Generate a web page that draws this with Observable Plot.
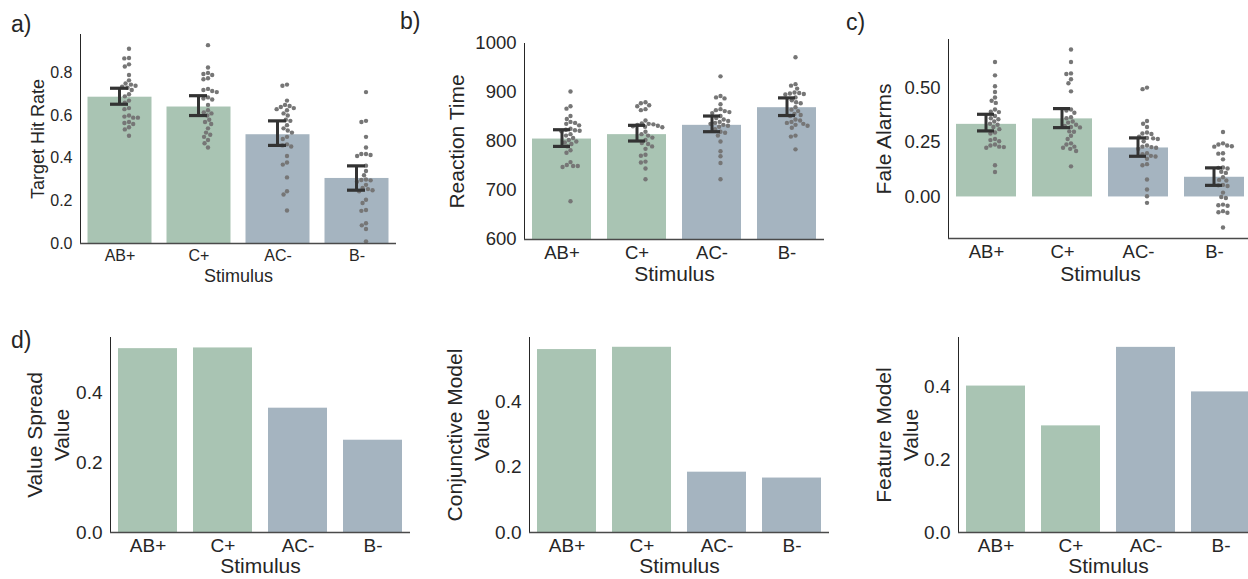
<!DOCTYPE html>
<html><head><meta charset="utf-8">
<script src="https://cdn.jsdelivr.net/npm/d3@7"></script>
<script src="https://cdn.jsdelivr.net/npm/@observablehq/plot@0.6"></script>
<style>
html,body{margin:0;padding:0;background:#fff;overflow:hidden;}
#fig{position:relative;width:1248px;height:579px;overflow:hidden;font-family:"Liberation Sans",Arial,sans-serif;color:#262626;background:#fff;}
.panel{position:absolute;}
.panel svg{max-width:none !important;}
.tag{position:absolute;font-size:23px;line-height:1;color:#262626;}
</style></head><body><div id="fig"></div>
<script>
// ---------- data ----------
const stimuli = ["AB+", "C+", "AC-", "B-"];
const barColors = ["#a9c4b3", "#a9c4b3", "#a5b4c0", "#a5b4c0"];
const xLabel = "Stimulus";

// a) Target Hit Rate
const hitMean = [0.686, 0.640, 0.510, 0.305];
const hitLow  = [0.653, 0.600, 0.460, 0.250];
const hitHigh = [0.728, 0.693, 0.575, 0.364];
const hitAB = [0.913, 0.87, 0.868, 0.84, 0.83, 0.79, 0.765, 0.75, 0.745, 0.74, 0.735, 0.73, 0.72, 0.70, 0.69, 0.67, 0.66, 0.635, 0.63, 0.60, 0.595, 0.59, 0.59, 0.57, 0.565, 0.56, 0.545, 0.535, 0.505];
const hitC  = [0.93, 0.825, 0.80, 0.795, 0.79, 0.775, 0.77, 0.725, 0.72, 0.715, 0.71, 0.685, 0.68, 0.675, 0.65, 0.625, 0.615, 0.61, 0.60, 0.58, 0.57, 0.56, 0.54, 0.52, 0.51, 0.50, 0.485, 0.47, 0.45];
const hitAC = [0.745, 0.74, 0.67, 0.65, 0.645, 0.64, 0.635, 0.63, 0.625, 0.61, 0.60, 0.58, 0.575, 0.555, 0.54, 0.53, 0.52, 0.50, 0.49, 0.465, 0.46, 0.455, 0.41, 0.38, 0.37, 0.31, 0.245, 0.23, 0.155];
const hitB  = [0.71, 0.575, 0.57, 0.50, 0.45, 0.42, 0.42, 0.415, 0.41, 0.365, 0.34, 0.32, 0.30, 0.298, 0.296, 0.29, 0.275, 0.26, 0.255, 0.25, 0.245, 0.205, 0.19, 0.157, 0.153, 0.095, 0.085, 0.068, 0.01];
const hitTicks = [0, 0.2, 0.4, 0.6, 0.8];

// b) Reaction Time
const rtMean = [805, 814, 833, 869];
const rtLow  = [790, 801, 820, 853];
const rtHigh = [824, 833, 852, 889];
const rtAB = [902, 872, 867, 852, 846, 840, 838, 836, 833, 826, 824, 823, 822, 821, 815, 812, 807, 803, 800, 798, 795, 790, 782, 777, 758, 752, 750, 750, 748, 678];
const rtC  = [880, 878, 874, 872, 866, 864, 843, 837, 836, 835, 834, 832, 831, 830, 829, 820, 815, 812, 808, 803, 797, 795, 790, 785, 773, 771, 759, 757, 745, 723];
const rtAC = [933, 893, 890, 888, 876, 866, 864, 862, 860, 858, 852, 848, 845, 842, 840, 838, 836, 834, 832, 830, 825, 820, 818, 812, 800, 780, 770, 756, 723];
const rtB  = [972, 917, 914, 908, 900, 899, 898, 897, 896, 890, 884, 880, 878, 870, 865, 862, 856, 854, 852, 845, 843, 840, 838, 836, 834, 832, 828, 812, 810, 784];
const rtTicks = [600, 700, 800, 900, 1000];

// c) False alarms
const faMean = [0.332, 0.357, 0.224, 0.090];
const faLow  = [0.302, 0.317, 0.186, 0.053];
const faHigh = [0.378, 0.404, 0.270, 0.133];
const faAB = [0.617, 0.556, 0.506, 0.48, 0.455, 0.44, 0.43, 0.40, 0.39, 0.388, 0.37, 0.36, 0.355, 0.345, 0.335, 0.33, 0.32, 0.31, 0.295, 0.29, 0.265, 0.26, 0.255, 0.24, 0.235, 0.23, 0.228, 0.225, 0.145, 0.114];
const faC  = [0.674, 0.617, 0.565, 0.562, 0.538, 0.52, 0.483, 0.40, 0.395, 0.385, 0.365, 0.36, 0.345, 0.34, 0.33, 0.325, 0.32, 0.318, 0.30, 0.298, 0.28, 0.265, 0.245, 0.24, 0.23, 0.225, 0.22, 0.21, 0.14];
const faAC = [0.50, 0.493, 0.347, 0.335, 0.32, 0.295, 0.29, 0.288, 0.275, 0.27, 0.268, 0.265, 0.255, 0.235, 0.23, 0.228, 0.225, 0.22, 0.20, 0.195, 0.188, 0.185, 0.175, 0.15, 0.145, 0.08, 0.034, 0.003, -0.027];
const faB  = [0.297, 0.245, 0.24, 0.235, 0.232, 0.23, 0.2, 0.198, 0.172, 0.135, 0.133, 0.13, 0.115, 0.11, 0.09, 0.078, 0.075, 0.055, 0.053, 0.05, 0.02, 0.0, -0.005, -0.035, -0.038, -0.04, -0.065, -0.07, -0.072, -0.14];
const faTicks = [0, 0.25, 0.5];

// d) model values
const valueSpread = [0.528, 0.530, 0.357, 0.265];
const conjunctive = [0.561, 0.568, 0.185, 0.167];
const featureModel = [0.401, 0.292, 0.507, 0.385];
const modelTicks = [0, 0.2, 0.4];

// ---------- drawing ----------
const fig = document.getElementById("fig");
const ink = "#262626";

function panel(cfg) {
  const bars = stimuli.map((s, i) => ({cat: s, v: cfg.means[i]}));
  const marks = [
    Plot.rectY(bars, {fx: "cat", y: "v", fill: "cat", insetLeft: cfg.inset, insetRight: cfg.inset, clip: true})
  ];
  if (cfg.points) {
    const pts = stimuli.flatMap((s, i) => cfg.points[i].map(v => ({cat: s, v})));
    marks.push(Plot.dot(pts, Plot.dodgeX({anchor: "middle", padding: 0.3},
      {fx: "cat", y: "v", r: 2.2, fill: "#767676"})));
  }
  if (cfg.low) {
    const err = stimuli.map((s, i) => ({cat: s, lo: cfg.low[i], hi: cfg.high[i]}));
    marks.push(Plot.ruleX(err, {fx: "cat", x: () => "c", y1: "lo", y2: "hi", stroke: "#333333", strokeWidth: 3}));
    marks.push(Plot.tickY(err, {fx: "cat", x: () => "c", y: "lo", stroke: "#333333", strokeWidth: 3.2}));
    marks.push(Plot.tickY(err, {fx: "cat", x: () => "c", y: "hi", stroke: "#333333", strokeWidth: 3.2}));
  }
  marks.push(Plot.ruleY([cfg.yDomain[0]], {stroke: "#4a4a4a", strokeWidth: 1.3}));
  marks.push(Plot.text(stimuli, {fx: d => d, text: d => d, frameAnchor: "bottom", dy: cfg.xTickDy, fontSize: cfg.tickFont, fill: ink}));
  marks.push(Plot.text([xLabel], {fx: () => stimuli[1], frameAnchor: "bottom-right", textAnchor: "middle", dy: cfg.xLabelDy, fontSize: cfg.labelFont, fill: ink}));
  marks.push(Plot.text([cfg.ylabel], {fx: () => stimuli[0], frameAnchor: "left", textAnchor: "middle", lineAnchor: "middle", rotate: -90, dx: cfg.ylabelDx, fontSize: cfg.labelFont, lineHeight: 1.3, fill: ink}));

  const svg = Plot.plot({
    width: cfg.width, height: cfg.height,
    marginTop: cfg.m[0], marginRight: cfg.m[1], marginBottom: cfg.m[2], marginLeft: cfg.m[3],
    style: {fontFamily: "'Liberation Sans', Arial, sans-serif", fontSize: cfg.tickFont + "px", color: ink, background: "transparent", overflow: "visible", maxWidth: "none"},
    fx: {domain: stimuli, padding: 0, axis: null},
    x: {type: "band", domain: ["c"], padding: 0.62, axis: null},
    y: {domain: cfg.yDomain, ticks: cfg.yTicks, tickFormat: cfg.yFormat, tickSize: 0, tickPadding: 8, line: true, label: null, grid: false},
    color: {domain: stimuli, range: barColors},
    marks
  });
  const wrap = document.createElement("div");
  wrap.className = "panel";
  wrap.style.left = cfg.left + "px";
  wrap.style.top = cfg.top + "px";
  wrap.style.width = cfg.width + "px";
  wrap.style.height = cfg.height + "px";
  wrap.appendChild(svg);
  fig.appendChild(wrap);
}

panel({left: 0, top: 0, width: 400, height: 290, m: [34, 4, 47, 80], inset: 7.5,
  yDomain: [0, 0.98], yTicks: hitTicks, yFormat: d3.format(".1f"),
  means: hitMean, low: hitLow, high: hitHigh, points: [hitAB, hitC, hitAC, hitB],
  ylabel: "Target Hit Rate", ylabelDx: -44, tickFont: 16, labelFont: 18, xTickDy: 17, xLabelDy: 38});

panel({left: 410, top: 0, width: 420, height: 290, m: [43, 5, 51, 112], inset: 8,
  yDomain: [600, 1000], yTicks: rtTicks, yFormat: d3.format("d"),
  means: rtMean, low: rtLow, high: rtHigh, points: [rtAB, rtC, rtAC, rtB],
  ylabel: "Reaction Time", ylabelDx: -69, tickFont: 18.5, labelFont: 21, xTickDy: 19, xLabelDy: 41});

panel({left: 840, top: 0, width: 420, height: 290, m: [39, 7, 52, 106], inset: 8,
  yDomain: [-0.19, 0.72], yTicks: faTicks, yFormat: d3.format(".2f"),
  means: faMean, low: faLow, high: faHigh, points: [faAB, faC, faAC, faB],
  ylabel: "Fale Alarms", ylabelDx: -66, tickFont: 18.5, labelFont: 21, xTickDy: 19, xLabelDy: 42});

panel({left: 0, top: 300, width: 414, height: 279, m: [37, 4, 47, 109], inset: 8,
  yDomain: [0, 0.56], yTicks: modelTicks, yFormat: d3.format(".1f"),
  means: valueSpread,
  ylabel: "Value Spread\nValue", ylabelDx: -64, tickFont: 19, labelFont: 21, xTickDy: 19, xLabelDy: 40});

panel({left: 420, top: 300, width: 413, height: 279, m: [37, 4, 47, 108], inset: 8,
  yDomain: [0, 0.598], yTicks: modelTicks, yFormat: d3.format(".1f"),
  means: conjunctive,
  ylabel: "Conjunctive Model\nValue", ylabelDx: -63, tickFont: 19, labelFont: 21, xTickDy: 19, xLabelDy: 40});

panel({left: 840, top: 300, width: 420, height: 279, m: [37, 1, 47, 117], inset: 8,
  yDomain: [0, 0.534], yTicks: modelTicks, yFormat: d3.format(".1f"),
  means: featureModel,
  ylabel: "Feature Model\nValue", ylabelDx: -63, tickFont: 19, labelFont: 21, xTickDy: 19, xLabelDy: 40});

const tags = [["a)", 11, 13], ["b)", 400, 10], ["c)", 846, 11], ["d)", 11, 329]];
for (const [t, x, y] of tags) {
  const el = document.createElement("div");
  el.className = "tag";
  el.textContent = t;
  el.style.left = x + "px";
  el.style.top = y + "px";
  fig.appendChild(el);
}
</script></body></html>
